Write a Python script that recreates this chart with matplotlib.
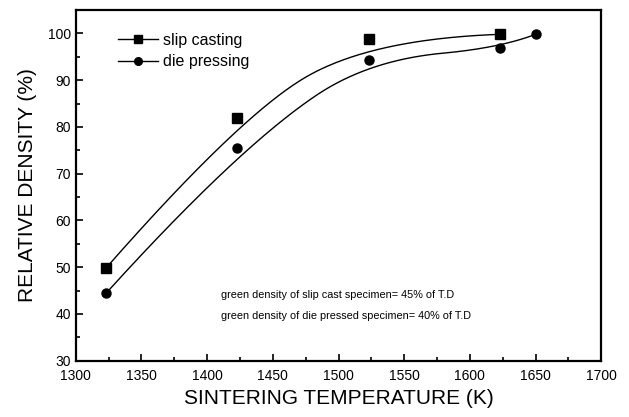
import numpy as np
import matplotlib
matplotlib.use("Agg")
import matplotlib.pyplot as plt
from matplotlib.ticker import MultipleLocator

# data
temp_slip = [1323, 1423, 1523, 1623]
dens_slip = [49.8, 81.8, 98.8, 99.8]
temp_die = [1323, 1423, 1523, 1623, 1650]
dens_die = [44.4, 75.4, 94.3, 96.9, 99.8]

notes = [
    "green density of slip cast specimen= 45% of T.D",
    "green density of die pressed specimen= 40% of T.D",
]


def bspline(xs, ys, k=2, n=300):
    # clamped B-spline, data points as control points,
    # knots averaged from the spacing in x
    P = np.column_stack([xs, ys]).astype(float)
    m = len(P)
    t = np.asarray(xs, float) - xs[0]
    inner = [t[j:j + k].mean() for j in range(1, m - k)]
    knots = np.concatenate([np.zeros(k + 1), inner, np.full(k + 1, t[-1])])
    u = np.linspace(0, t[-1], n)
    u[-1] -= 1e-9

    def N(i, p, s):
        if p == 0:
            return ((knots[i] <= s) & (s < knots[i + 1])).astype(float)
        a = np.zeros_like(s)
        b = np.zeros_like(s)
        if knots[i + p] != knots[i]:
            a = (s - knots[i]) / (knots[i + p] - knots[i]) * N(i, p - 1, s)
        if knots[i + p + 1] != knots[i + 1]:
            b = (knots[i + p + 1] - s) / (knots[i + p + 1] - knots[i + 1]) * N(i + 1, p - 1, s)
        return a + b

    B = np.column_stack([N(i, k, u) for i in range(m)])
    C = B @ P
    return C[:, 0], C[:, 1]


plt.rcParams["font.family"] = ["Liberation Sans", "DejaVu Sans"]

fig = plt.figure(figsize=(6.29, 4.17), dpi=100)
ax = fig.add_axes([0.1204, 0.135, 0.8356, 0.841])

# smooth curves
sx, sy = bspline(temp_slip, dens_slip)
dx, dy = bspline(temp_die, dens_die)
ax.plot(sx, sy, color="black", linewidth=1.0)
ax.plot(dx, dy, color="black", linewidth=1.0)

# markers
ax.plot(temp_slip, dens_slip, "s", color="black", markersize=6.5, linestyle="none")
ax.plot(temp_die, dens_die, "o", color="black", markersize=6.5, linestyle="none")

# legend handles
ax.plot([], [], "-s", color="black", linewidth=1.0, markersize=5.5, label="slip casting")
ax.plot([], [], "-o", color="black", linewidth=1.0, markersize=5.5, label="die pressing")
ax.legend(loc="upper left", bbox_to_anchor=(0.08, 0.935), frameon=False,
          borderaxespad=0, borderpad=0,
          fontsize=11.5, handlelength=2.5, handletextpad=0.3, labelspacing=0.4)

ax.text(0.277, 0.187, notes[0], transform=ax.transAxes, fontsize=7.8, va="center")
ax.text(0.277, 0.127, notes[1], transform=ax.transAxes, fontsize=7.8, va="center")

ax.set_xlim(1300, 1700)
ax.set_ylim(30, 105)
ax.set_xticks(np.arange(1300, 1701, 50))
ax.set_yticks(np.arange(30, 101, 10))
ax.xaxis.set_minor_locator(MultipleLocator(25))
ax.yaxis.set_minor_locator(MultipleLocator(5))
ax.tick_params(which="both", direction="in", top=False, right=False, labelsize=10, width=1.2)
ax.tick_params(which="major", length=5)
ax.tick_params(which="minor", length=3)
ax.tick_params(axis="x", pad=6)
for s in ax.spines.values():
    s.set_linewidth(1.6)

ax.set_xlabel("SINTERING TEMPERATURE (K)", fontsize=15, labelpad=4)
ax.set_ylabel("RELATIVE DENSITY (%)", fontsize=15, labelpad=8)

fig.savefig("out.png", dpi=100)
